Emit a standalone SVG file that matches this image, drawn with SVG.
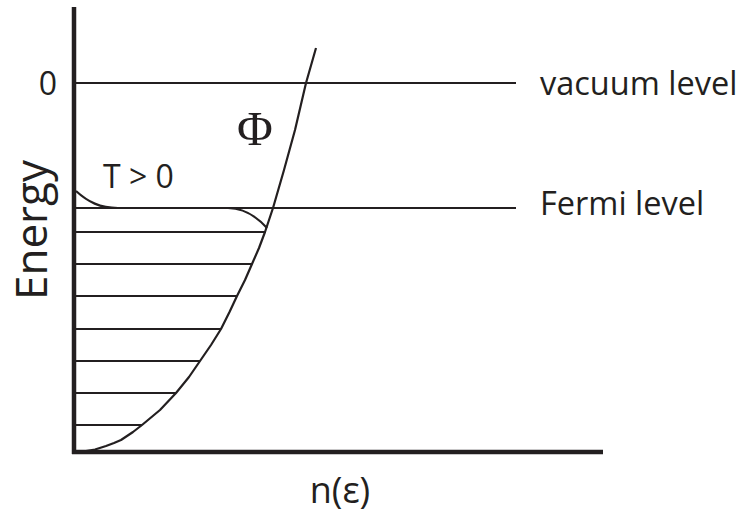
<svg xmlns="http://www.w3.org/2000/svg" width="751" height="514" viewBox="0 0 751 514">
<style>
.ln{stroke:#231f20;stroke-width:2.2;fill:none}
.ax{stroke:#231f20;stroke-width:4.5;fill:none}
.tx{font-family:"Open Sans","Liberation Sans",sans-serif;fill:#231f20}
</style>
<rect width="751" height="514" fill="#fff"/>
<g id="axes">
<line class="ax" x1="74" y1="7" x2="74" y2="454"/>
<line class="ax" x1="72" y1="452" x2="603" y2="452"/>
</g>
<g id="levels">
<line class="ln" x1="76" y1="83" x2="516" y2="83"/>
<line class="ln" x1="76" y1="208" x2="516" y2="208"/>
</g>
<g id="hatch">
<line class="ln" x1="76" y1="232" x2="265" y2="232"/>
<line class="ln" x1="76" y1="264" x2="252" y2="264"/>
<line class="ln" x1="76" y1="296" x2="237" y2="296"/>
<line class="ln" x1="76" y1="329" x2="221" y2="329"/>
<line class="ln" x1="76" y1="361" x2="200" y2="361"/>
<line class="ln" x1="76" y1="393" x2="176" y2="393"/>
<line class="ln" x1="76" y1="425" x2="142" y2="425"/>
</g>
<g id="dos-curve">
<polyline class="ln" stroke-linejoin="round" points="76,452 86,451 95,449.5 106,446 114,443 121,440 133,432 142,425 160,410 176,393 189,377 200,361 211,345 221,329 229.5,312 237,296 245,280 252,264 259,248 265,232 273,208 284,170 295,130 306,83 316,48"/>
</g>
<g id="fermi-smear">
<path class="ln" d="M76,191 C88,202 100,208 118,208"/>
<path class="ln" d="M228,208 C245,208 257,217 267,228"/>
</g>
<g id="labels">
<text class="tx" x="48" y="95" font-size="32" text-anchor="middle">0</text>
<text class="tx" x="540" y="95" font-size="32.5">vacuum level</text>
<text class="tx" x="540" y="215" font-size="32.5">Fermi level</text>
<text class="tx" x="103" y="188" font-size="32">T &gt; 0</text>
<text x="255" y="145" font-size="49" text-anchor="middle" font-family="Liberation Serif,serif" fill="#231f20">Φ</text>
<text class="tx" font-size="44" text-anchor="middle" transform="translate(47,230) rotate(-90)">Energy</text>
<text class="tx" x="340" y="503" font-size="36" text-anchor="middle">n(ε)</text>
</g>
</svg>
